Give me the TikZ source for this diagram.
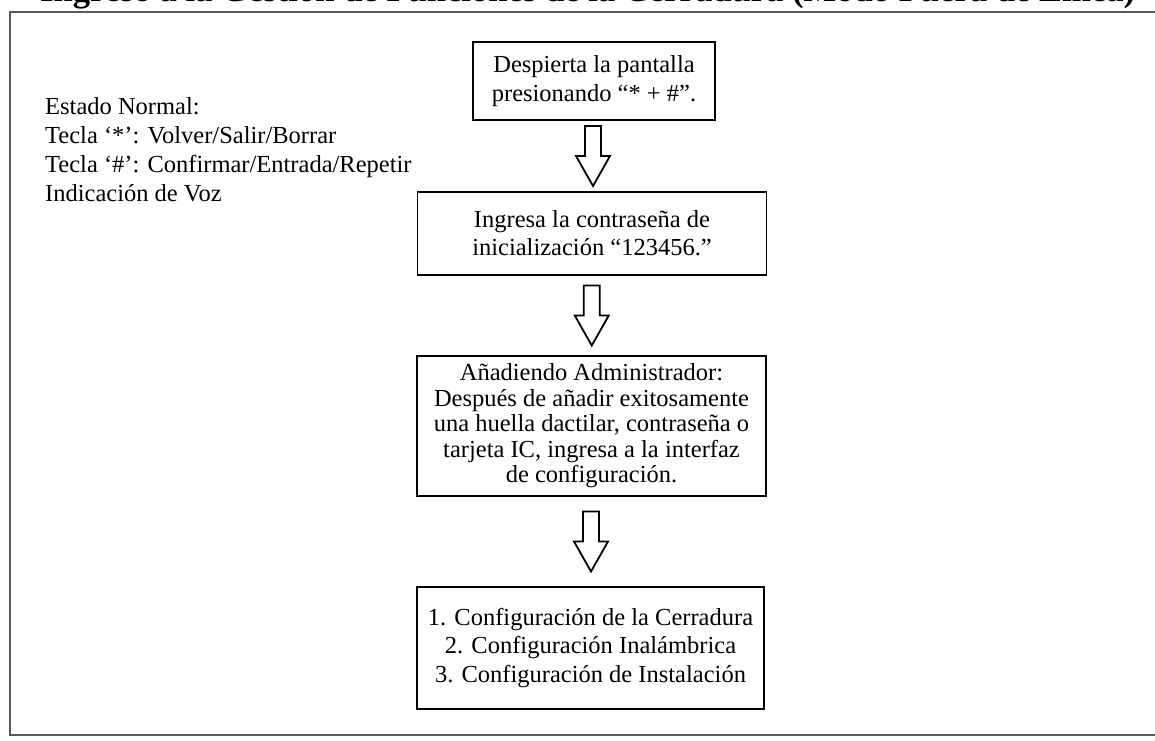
\documentclass[tikz,border=0pt]{standalone}
\usepackage{fontspec}
\setmainfont{Liberation Serif}
\usetikzlibrary{calc}

% hollow block arrow between two boxes
\newcommand{\hollowarrow}[2]{%
  \draw[blockarrow] ($(#1.south)!0.5!(#2.north)$) ++(-8,-30) -- ++(16,0) -- ++(0,30)
    -- ++(9,0) -- ++(-17,30) -- ++(-17,-30) -- ++(9,0) -- cycle;}

\begin{document}
\begin{tikzpicture}[x=1pt,y=-1pt,
  stepbox/.style={draw, line width=1.6pt, align=center, inner sep=0pt,
    font=\fontsize{24.5}{28.3}\selectfont},
  blockarrow/.style={line width=1.8pt, line join=miter},
  frame/.style={draw=black!65, line width=2.5pt}]
\useasboundingbox (0,0) rectangle (1155,740);
\clip (0,0) rectangle (1155,740);

\node[anchor=base west, inner sep=0pt, font=\bfseries\fontsize{34.6}{40}\selectfont] (title) at (40,1)
  {Ingreso a la Gestión de Funciones de la Cerradura (Modo Fuera de Línea)};
\draw[frame] (10,12) rectangle (1175,735);

\node[anchor=north west, align=left, inner sep=0pt, font=\fontsize{24.5}{29}\selectfont] (normal) at (45,97)
  {Estado Normal:\\Tecla ‘*’: Volver/Salir/Borrar\\Tecla ‘\#’: Confirmar/Entrada/Repetir\\Indicación de Voz};

\node[stepbox, minimum width=242pt, minimum height=78pt] (wake) at (594,81)
  {Despierta la pantalla\\presionando “* + \#”.};
\node[stepbox, minimum width=349pt, minimum height=83pt] (code) at (592,233.5)
  {Ingresa la contraseña de\\inicialización “123456.”};
\node[stepbox, minimum width=349pt, minimum height=140pt, font=\fontsize{24.5}{25.5}\selectfont] (admin) at (591.5,426)
  {Añadiendo Administrador:\\Después de añadir exitosamente\\una huella dactilar, contraseña o\\tarjeta IC, ingresa a la interfaz\\de configuración.};
\node[stepbox, minimum width=347pt, minimum height=122pt] (config) at (590.5,648)
  {1. Configuración de la Cerradura\\2. Configuración Inalámbrica\\3. Configuración de Instalación};

\hollowarrow{wake}{code}
\hollowarrow{code}{admin}
\hollowarrow{admin}{config}
\end{tikzpicture}
\end{document}
